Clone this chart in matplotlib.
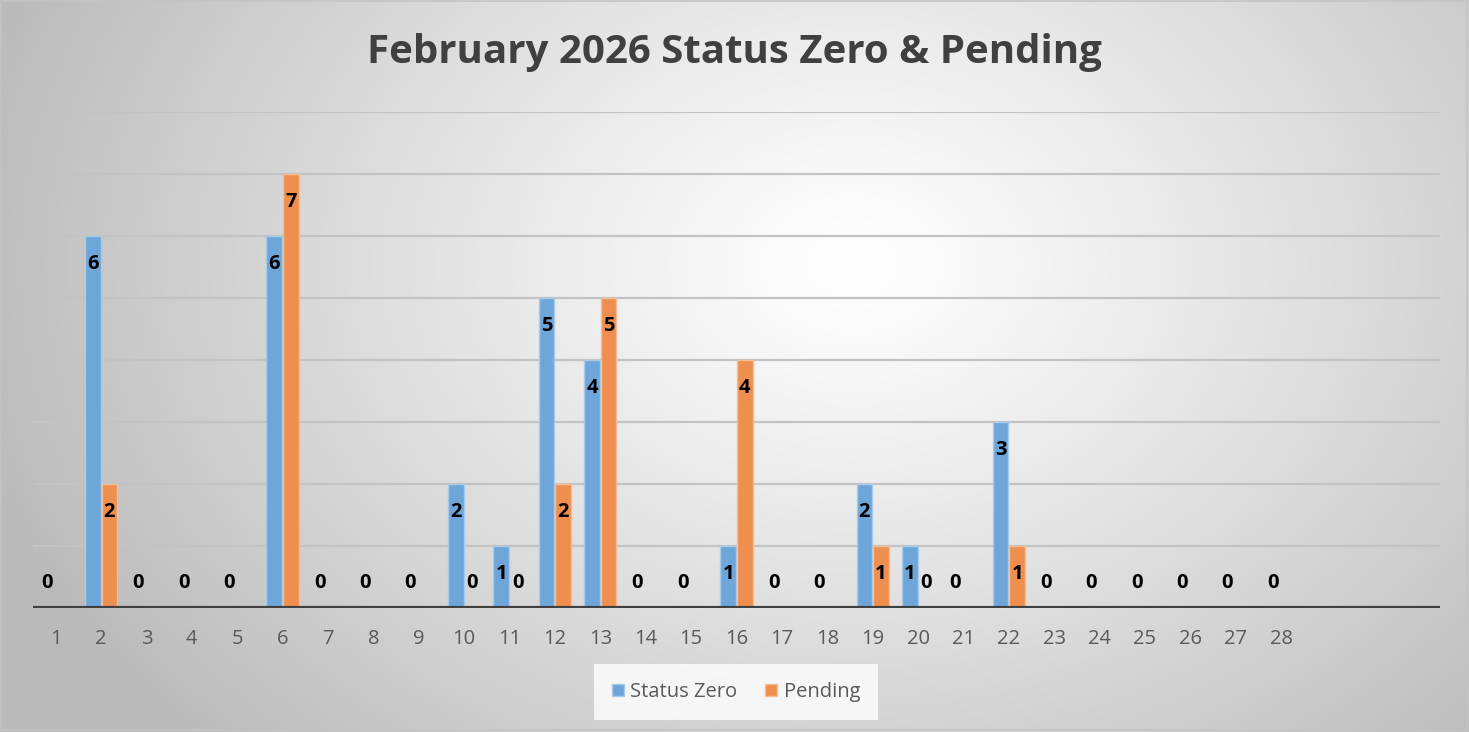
import numpy as np
import matplotlib
matplotlib.use("Agg")
import matplotlib.pyplot as plt
from matplotlib.patches import Rectangle

# ---- data ----
days = [str(d) for d in range(1, 29)] + ["", "", ""]
status_zero = [0, 6, 0, 0, 0, 6, 0, 0, 0, 2, 1, 5, 4, 0, 0, 1, 0, 0, 2, 1, 0, 3,
               0, 0, 0, 0, 0, 0, None, None, None]
pending = [None, 2, None, None, None, 7, None, None, None, 0, 0, 2, 5, None, None, 4,
           None, None, 1, 0, None, 1, None, None, None, None, None, None, None, None, None]
series_names = ["Status Zero", "Pending"]
title = "February 2026 Status Zero & Pending"

W, H = 1469, 732
fig = plt.figure(figsize=(W / 100, H / 100), dpi=100)

# radial gradient background
bg = fig.add_axes([0, 0, 1, 1])
yy, xx = np.mgrid[0:H, 0:W]
cx, cy = 0.58 * W, 0.36 * H
d = np.sqrt(((xx - cx) / (0.62 * W)) ** 2 + ((yy - cy) / (0.95 * H)) ** 2)
d = np.clip(d, 0, 1)
val = 1.0 - 0.27 * d ** 1.15
img = np.dstack([val, val, val])
bg.imshow(img, extent=[0, W, H, 0], aspect="auto", interpolation="bilinear")
bg.set_xlim(0, W)
bg.set_ylim(H, 0)
bg.axis("off")
bg.add_patch(Rectangle((1, 1), W - 3, H - 3, fill=False, ec="#c4c4c4", lw=1.2))

font = "Open Sans"

ax = fig.add_axes([33 / W, (H - 608) / H, (1440 - 33) / W, (608 - 112) / H])
ax.patch.set_alpha(0)
n = len(days)
x = np.arange(n)
bw = 0.345
off = 0.183

sz = np.array([np.nan if v is None else v for v in status_zero], dtype=float)
pd_ = np.array([np.nan if v is None else v for v in pending], dtype=float)

colors = [("#6fa6d9", "#a9cbeb"), ("#ef8f4f", "#f6bc94")]
for vals, sign, (fc, ec), name in [(sz, -1, colors[0], series_names[0]),
                                   (pd_, 1, colors[1], series_names[1])]:
    m = ~np.isnan(vals)
    ax.bar(x[m] + sign * off, vals[m], width=bw, color=fc, edgecolor=ec,
           linewidth=1.0, zorder=3, label=name)
    for xi, v in zip(x[m], vals[m]):
        if v > 0:
            ax.annotate(f"{int(v)}", (xi + sign * off, v), xytext=(0, -20),
                        textcoords="offset points", ha="center", va="center",
                        fontsize=14.5, fontweight="bold", color="black",
                        family=font, zorder=5)
        else:
            ax.annotate(f"{int(v)}", (xi + sign * off, 0), xytext=(0, 18),
                        textcoords="offset points", ha="center", va="center",
                        fontsize=14.5, fontweight="bold", color="black",
                        family=font, zorder=5)

ax.set_xlim(-0.5, n - 0.5)
ax.set_ylim(0, 8)
for yv in range(1, 9):
    ax.axhline(yv, color="#c3c3c3", lw=1.6, zorder=1)
ax.axhline(0, color="#404040", lw=3.0, zorder=4)
for s in ax.spines.values():
    s.set_visible(False)
ax.set_yticks([])
ax.set_xticks(x)
ax.set_xticklabels(days, fontsize=14.5, color="#595959", family=font)
ax.tick_params(axis="x", length=0, pad=15)

fig.text(0.5, (H - 52) / H, title, ha="center", va="center", fontsize=29,
         fontweight="bold", color="#404040", family=font)

leg = ax.legend(loc="center", bbox_to_anchor=(736 / W, (H - 692) / H),
                bbox_transform=fig.transFigure, ncol=2, frameon=True,
                prop={"family": font, "size": 14.5}, handlelength=0.6,
                handleheight=0.6, columnspacing=1.4, handletextpad=0.3,
                borderpad=0.6)
leg.get_frame().set_facecolor((1, 1, 1, 0.12))
leg.get_frame().set_edgecolor("none")
leg.get_frame().set_boxstyle("square")
for t in leg.get_texts():
    t.set_color("#595959")

fig.savefig("out.png", dpi=100)
